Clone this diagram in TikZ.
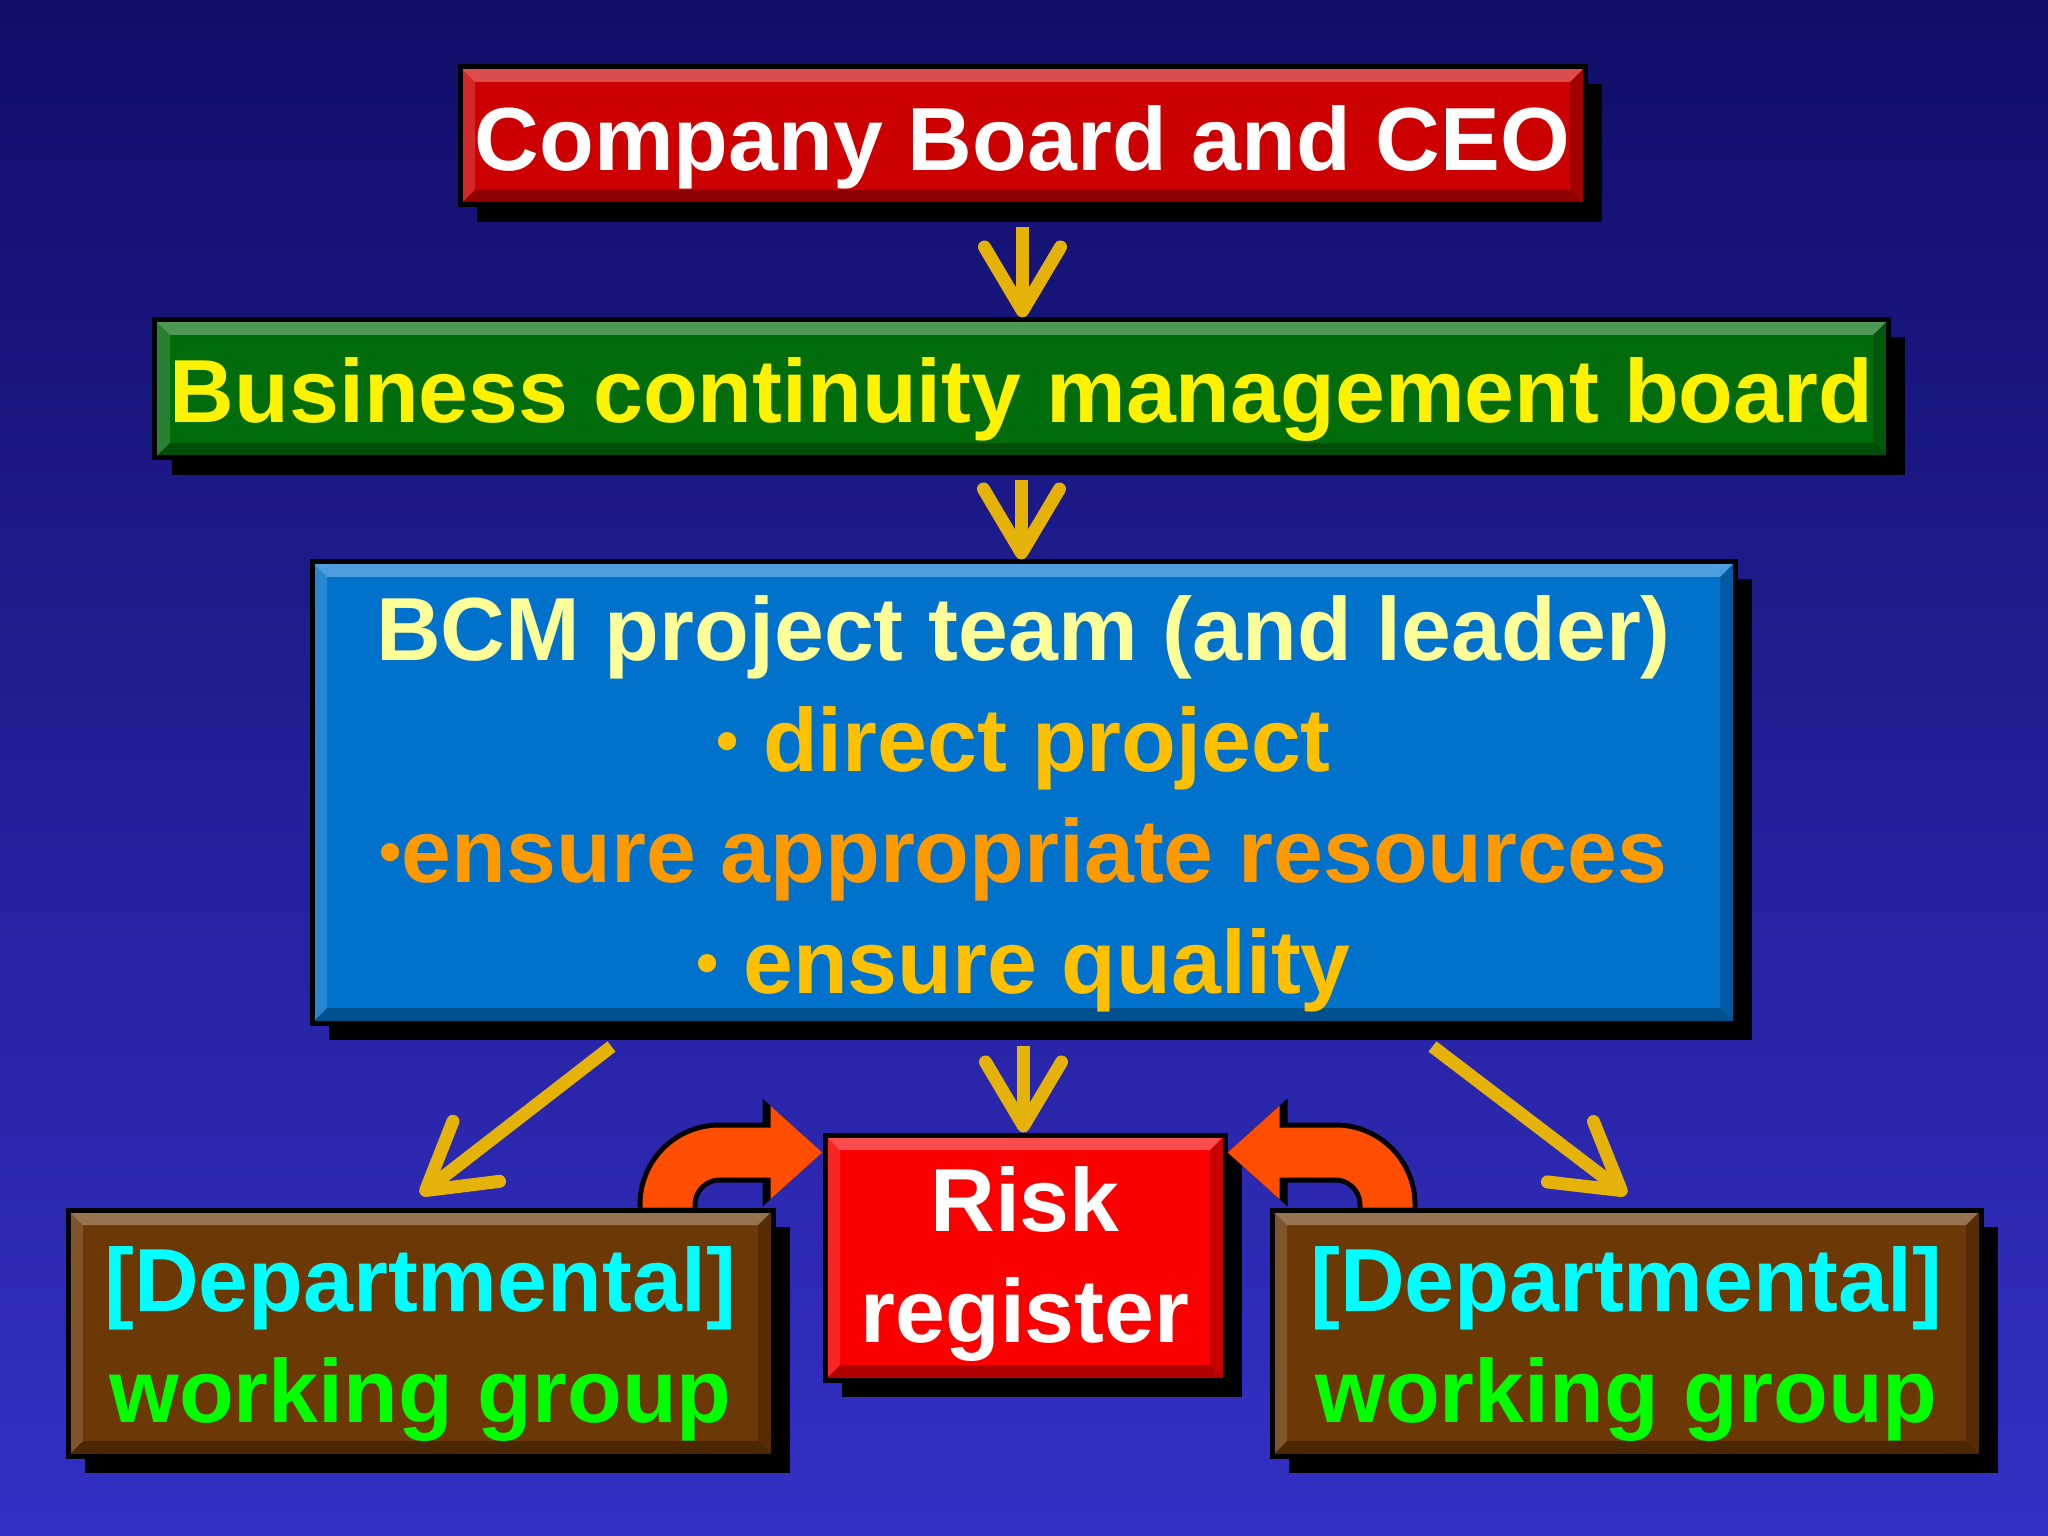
\documentclass[tikz,border=0pt]{standalone}
\usepackage{fontspec}
\setmainfont{Liberation Sans}
\usetikzlibrary{calc, positioning, arrows.meta, shadows}

\definecolor{bgtop}{RGB}{16,14,104}
\definecolor{bgbottom}{RGB}{52,48,198}
\definecolor{ceored}{RGB}{204,0,0}
\definecolor{boardgreen}{RGB}{0,108,12}
\definecolor{teamblue}{RGB}{0,114,204}
\definecolor{riskred}{RGB}{250,0,0}
\definecolor{deptbrown}{RGB}{108,56,6}
\definecolor{arrowgold}{RGB}{228,178,8}
\definecolor{feedorange}{RGB}{255,78,0}
\definecolor{paleyellow}{RGB}{255,255,153}
\definecolor{bulletgold}{RGB}{255,192,0}
\definecolor{bulletorange}{RGB}{255,153,0}
\definecolor{deptcyan}{RGB}{0,255,255}
\definecolor{deptgreen}{RGB}{0,255,0}

\def\bevel{0.15cm}
\def\lift{\rule{0pt}{0.97em}}
\def\dotmark{\raisebox{2.5pt}{\fontsize{18}{18}\selectfont •}}
\tikzstyle{box}=[rectangle, draw=black, line width=0.05cm, inner sep=0pt, align=center,
  font=\fontsize{25.5}{31.6}\selectfont\bfseries,
  drop shadow={shadow xshift=0.17cm, shadow yshift=-0.17cm, opacity=1, fill=black},
  path picture={
    \fill[white, opacity=0.3] (path picture bounding box.north west) -- (path picture bounding box.north east)
      -- ++(-\bevel,-\bevel) -- ([shift={(\bevel,-\bevel)}]path picture bounding box.north west) -- cycle;
    \fill[white, opacity=0.15] (path picture bounding box.north west) -- (path picture bounding box.south west)
      -- ++(\bevel,\bevel) -- ([shift={(\bevel,-\bevel)}]path picture bounding box.north west) -- cycle;
    \fill[black, opacity=0.3] (path picture bounding box.south west) -- (path picture bounding box.south east)
      -- ++(-\bevel,\bevel) -- ([shift={(\bevel,\bevel)}]path picture bounding box.south west) -- cycle;
    \fill[black, opacity=0.2] (path picture bounding box.north east) -- (path picture bounding box.south east)
      -- ++(-\bevel,\bevel) -- ([shift={(-\bevel,-\bevel)}]path picture bounding box.north east) -- cycle;
  }]
\tikzstyle{ceo box}=[box, fill=ceored, text=white, minimum width=11.25cm, minimum height=1.38cm]
\tikzstyle{board box}=[box, fill=boardgreen, text=yellow, minimum width=17.33cm, minimum height=1.38cm]
\tikzstyle{team box}=[box, fill=teamblue, minimum width=14.23cm, minimum height=4.61cm]
\tikzstyle{risk box}=[box, fill=riskred, text=white, minimum width=4cm, minimum height=2.45cm]
\tikzstyle{dept box}=[box, fill=deptbrown, minimum width=7.05cm, minimum height=2.46cm]
\tikzstyle{link}=[draw=arrowgold, line width=0.13cm, -{Straight Barb[length=0.64cm, width=0.76cm, round]}]
\tikzstyle{feed}=[draw=feedorange, line width=0.5cm, rounded corners=0.52cm,
  -{Triangle[length=0.52cm, width=0.9cm]},
  preaction={draw=black, line width=0.6cm, -{Triangle[length=0.6cm, width=1.04cm]}}]

\begin{document}
\begin{tikzpicture}

			% Slide background
			\useasboundingbox (0,0) rectangle (20.48,-15.36);
			\shade[top color=bgtop, bottom color=bgbottom] (0,0) rectangle (20.48,-15.36);

			% Draw the boards and the project team
			\node[ceo box] (ceo) at (10.225,-1.36) {\lift Company Board and CEO};
			\node[board box] (bcmb) at (10.215,-3.89) {\lift Business continuity management board};
			\node[team box] (team) at (10.235,-7.925) {{\lift\color{paleyellow}BCM project team (and leader)}\\
				{\color{bulletgold}\dotmark\ direct project}\\
				{\color{bulletorange}\dotmark ensure appropriate resources}\\
				{\color{bulletgold}\dotmark\ ensure quality}};

			% Draw the bottom row
			\node[risk box] (risk) at (10.25,-12.575) {\rule{0pt}{0.88em}Risk\\register};
			\node[dept box] (dwl) at (4.205,-13.33) {{\lift\color{deptcyan}[Departmental]}\\{\color{deptgreen}working group}};
			\node[dept box, minimum width=7.09cm] (dwr) at (16.265,-13.33) {{\lift\color{deptcyan}[Departmental]}\\{\color{deptgreen}working group}};

			% Connect each level with the one below it
			\foreach \source/\dest in {ceo/bcmb, bcmb/team, team/risk}
			\draw[link, shorten <=0.2cm] (\source.south) -- (\source.south |- \dest.north);

			\draw[link] ([shift={(3.02,-0.21)}]team.south west) -- ([yshift=0.13cm]dwl.north);
			\draw[link] ([shift={(-3.05,-0.21)}]team.south east) -- ([yshift=0.13cm]dwr.north);

			% Working groups feed the risk register
			\draw[feed] ([xshift=-1.08cm]dwl.north east) |- ([yshift=-0.2cm]risk.north west);
			\draw[feed] ([xshift=1.18cm]dwr.north west) |- ([yshift=-0.2cm]risk.north east);
		\end{tikzpicture}
\end{document}
